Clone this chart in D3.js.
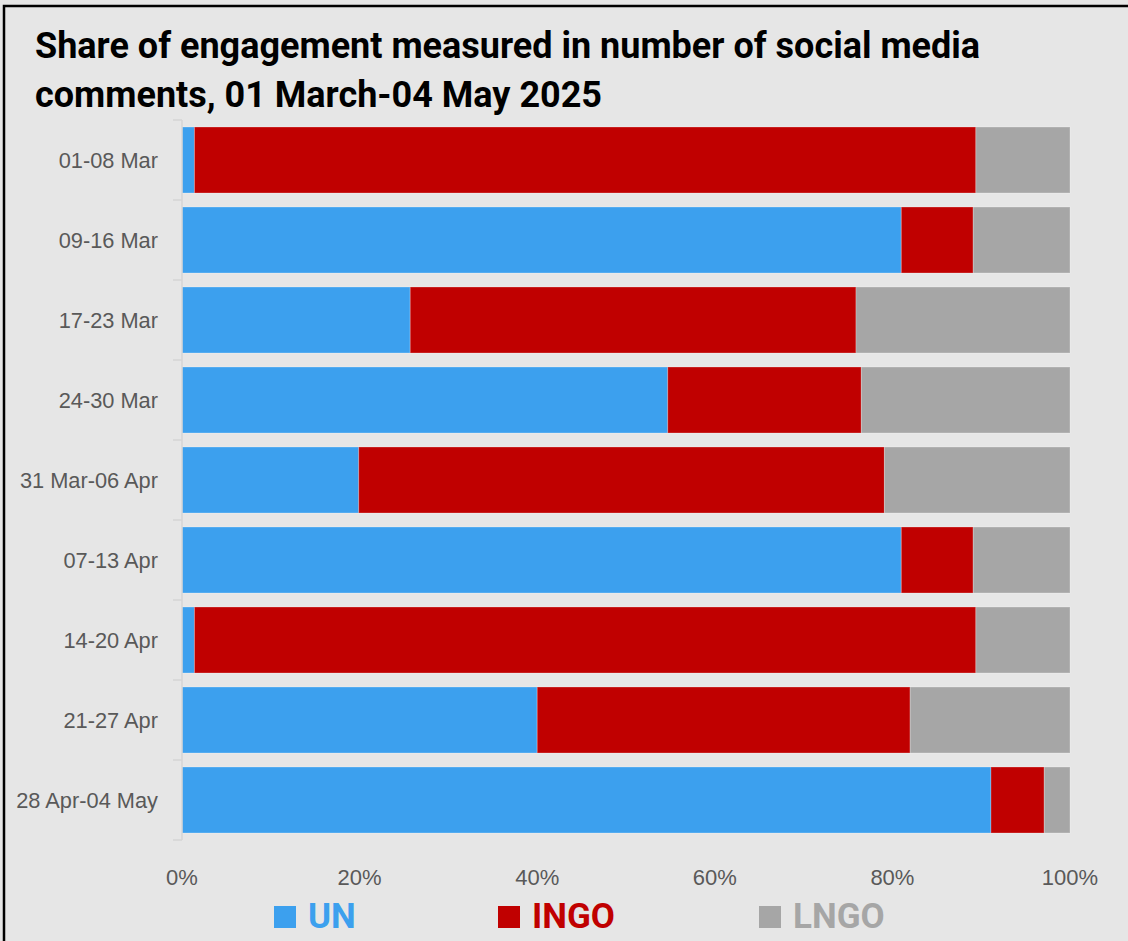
<!DOCTYPE html>
<html>
<head>
<meta charset="utf-8">
<script src="https://cdn.jsdelivr.net/npm/d3@7"></script>
<style>
  body { margin: 0; background: #e6e6e6; }
  svg { display: block; }
</style>
</head>
<body>
<div id="chart"></div>
<script>
// data (percent of comments)
const weeks = ["01-08 Mar", "09-16 Mar", "17-23 Mar", "24-30 Mar", "31 Mar-06 Apr",
               "07-13 Apr", "14-20 Apr", "21-27 Apr", "28 Apr-04 May"];
const unShare   = [1.4, 81.0, 25.7, 54.7, 19.9, 81.0, 1.4, 40.0, 91.1];
const ingoShare = [88.0, 8.1, 50.2, 21.8, 59.2, 8.1, 88.0, 42.0, 6.0];
const lngoShare = [10.6, 10.9, 24.1, 23.5, 20.9, 10.9, 10.6, 18.0, 2.9];
const seriesNames = ["UN", "INGO", "LNGO"];
const xTicks = [0, 20, 40, 60, 80, 100];

const width = 1128, height = 941;
const margin = {top: 120, right: 58, bottom: 101, left: 182};
const colors = {UN: "#3ca0ee", INGO: "#c00000", LNGO: "#a6a6a6"};

const rows = weeks.map((w, i) => ({week: w, UN: unShare[i], INGO: ingoShare[i], LNGO: lngoShare[i]}));

const svg = d3.select("#chart").append("svg")
  .attr("width", width)
  .attr("height", height);

svg.append("rect")
  .attr("width", width).attr("height", height)
  .attr("fill", "#e6e6e6");

// frame (cut off on right and bottom, like the screenshot)
svg.append("rect")
  .attr("x", 4).attr("y", 6)
  .attr("width", width + 20).attr("height", height + 20)
  .attr("fill", "none")
  .attr("stroke", "#000")
  .attr("stroke-width", 2.5);

// title
const title = svg.append("text")
  .attr("x", 35)
  .attr("font-family", "Roboto, 'Liberation Sans', sans-serif")
  .attr("font-weight", 700)
  .attr("font-size", 36)
  .attr("fill", "#000");
title.append("tspan").attr("x", 35).attr("y", 58)
  .text("Share of engagement measured in number of social media");
title.append("tspan").attr("x", 35).attr("y", 107)
  .text("comments, 01 March-04 May 2025");

const x = d3.scaleLinear()
  .domain([0, 100])
  .range([margin.left, width - margin.right]);

const y = d3.scaleBand()
  .domain(weeks)
  .range([margin.top, height - margin.bottom])
  .paddingInner(0.175)
  .paddingOuter(0.0875);

const stacked = d3.stack().keys(seriesNames)(rows);

svg.append("g")
  .selectAll("g")
  .data(stacked)
  .join("g")
    .attr("fill", d => colors[d.key])
  .selectAll("rect")
  .data(d => d)
  .join("rect")
    .attr("x", d => x(d[0]))
    .attr("y", d => y(d.data.week))
    .attr("width", d => x(d[1]) - x(d[0]))
    .attr("height", y.bandwidth())
    .attr("stroke", "#ffffff")
    .attr("stroke-opacity", 0.25)
    .attr("stroke-width", 1);

// category axis: line plus ticks between bands
const yAxis = svg.append("g");
yAxis.append("line")
  .attr("x1", margin.left).attr("x2", margin.left)
  .attr("y1", margin.top).attr("y2", height - margin.bottom)
  .attr("stroke", "#d4d4d4").attr("stroke-width", 1.5);

const step = y.step();
const bounds = d3.range(weeks.length + 1).map(i => margin.top + i * step);
yAxis.selectAll(".tick")
  .data(bounds)
  .join("line")
    .attr("class", "tick")
    .attr("x1", margin.left - 9).attr("x2", margin.left)
    .attr("y1", d => d).attr("y2", d => d)
    .attr("stroke", "#d4d4d4").attr("stroke-width", 1.5);

yAxis.selectAll(".lbl")
  .data(weeks)
  .join("text")
    .attr("class", "lbl")
    .attr("x", margin.left - 24)
    .attr("y", d => y(d) + y.bandwidth() / 2)
    .attr("dy", "0.35em")
    .attr("text-anchor", "end")
    .attr("font-family", "'Liberation Sans', Arial, sans-serif")
    .attr("font-size", 21.8)
    .attr("fill", "#595959")
    .text(d => d);

// value axis labels
svg.append("g")
  .selectAll("text")
  .data(xTicks)
  .join("text")
    .attr("x", d => x(d))
    .attr("y", 885)
    .attr("text-anchor", "middle")
    .attr("font-family", "'Liberation Sans', Arial, sans-serif")
    .attr("font-size", 22)
    .attr("fill", "#595959")
    .text(d => d + "%");

// legend
const legendX = [274, 498, 759];
const legend = svg.append("g")
  .selectAll("g")
  .data(seriesNames)
  .join("g")
    .attr("transform", (d, i) => `translate(${legendX[i]},906)`);

legend.append("rect")
  .attr("width", 22).attr("height", 22)
  .attr("fill", d => colors[d]);

legend.append("text")
  .attr("x", 34)
  .attr("y", 22)
  .attr("font-family", "Roboto, 'Liberation Sans', sans-serif")
  .attr("font-weight", 700)
  .attr("font-size", 35)
  .attr("fill", d => colors[d])
  .text(d => d);
</script>
</body>
</html>
